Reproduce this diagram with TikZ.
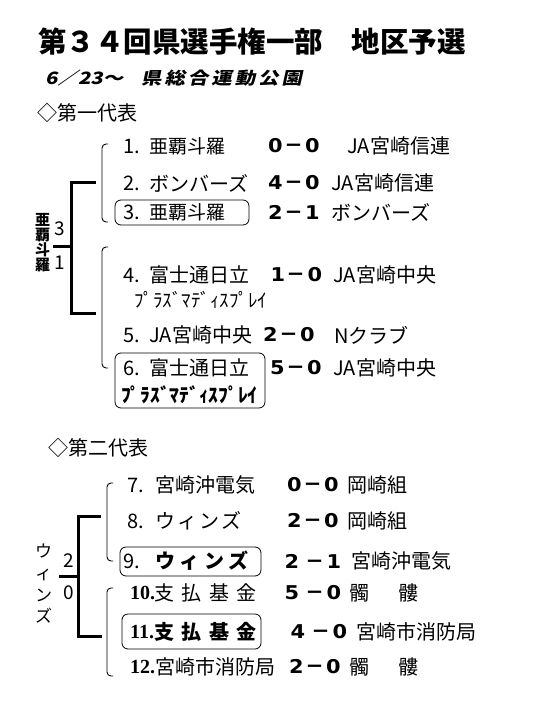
\documentclass[tikz,border=0pt]{standalone}
\usepackage{fontspec}
\newfontfamily\jp{Noto Sans CJK JP}
\newfontfamily\jpblack{Noto Sans CJK JP Black}
\newfontfamily\jpsl{Noto Sans CJK JP}[FakeSlant=0.22,FakeStretch=1.2]
\newfontfamily\serf{Liberation Serif}
\newfontfamily\dvsw{DejaVu Sans}[FakeStretch=1.1]
\newcommand\scr[3]{\makebox[18.5pt]{#1}\hspace*{#2}\makebox[18.5pt]{\jp\bfseries －}\makebox[18.5pt]{#3}}
\tikzset{
  txt/.style={anchor=west, inner sep=0pt, font=\jp\fontsize{20}{20}\selectfont},
  txs/.style={anchor=west, inner sep=0pt, font=\jp\fontsize{19}{19}\selectfont},
  sco/.style={anchor=west, inner sep=0pt, font=\dvsw\bfseries\fontsize{19}{19}\selectfont},
  hank/.style={anchor=west, inner sep=0pt, font=\jp\fontsize{19}{19}\selectfont},
  head/.style={anchor=west, inner sep=0pt, font=\jp\fontsize{20}{20}\selectfont},
  dig/.style={inner sep=0pt, font=\jp\fontsize{19}{19}\selectfont},
  vert/.style={inner sep=0pt, align=center},
  brk/.style={line width=3pt},
  pbrk/.style={line width=0.9pt, rounded corners=4pt},
  winbox/.style={line width=0.8pt, rounded corners=6pt},
}
\begin{document}
\begin{tikzpicture}[x=1pt,y=-1pt]
\useasboundingbox (0,0) rectangle (540,720);
% title
\node[anchor=west, inner sep=0pt, font=\jpblack\fontsize{28.5}{28.5}\selectfont] (title) at (38,42) {第３４回県選手権一部　地区予選};
\node[anchor=west, inner sep=0pt, font=\jpsl\bfseries\fontsize{17}{17}\selectfont] (subd) at (45,78) {6／23～};
\node[anchor=west, inner sep=0pt, font=\jpsl\bfseries\fontsize{17}{17}\selectfont] (subp) at (141,78) {県\kern3pt総\kern3pt合\kern3pt運\kern3pt動\kern3pt公\kern3pt園};
\node[head] (h1) at (37,113) {◇第一代表};
% section 1 brackets
\coordinate (p1t) at (102,144); \coordinate (p1b) at (102,222);
\coordinate (p2t) at (102,247); \coordinate (p2b) at (102,368);
\draw[pbrk] ([xshift=6pt]p1t) -- (p1t) -- (p1b) -- ([xshift=6pt]p1b);
\draw[pbrk] ([xshift=6pt]p2t) -- (p2t) -- (p2b) -- ([xshift=6pt]p2b);
\coordinate (k1t) at (96,182); \coordinate (k1v) at (71.5,182);
\coordinate (k1b) at (96,313); \coordinate (k1w) at (71.5,313);
\coordinate (k1m) at (71.5,246.5); \coordinate (k1l) at (53,246.5);
\draw[brk] (k1t) -- (k1v) -- (k1w) -- (k1b);
\draw[brk] (k1l) -- (k1m);
\node[dig] (s3) at (60,229) {3};
\node[dig] (s1) at (59.5,263) {1};
\node[vert, font=\jp\bfseries\fontsize{15}{15}\selectfont] (w1) at (42.5,243) {亜\\覇\\斗\\羅};
% section 1 rows
\draw[winbox] (115,200) rectangle (249,225);
\draw[winbox] (115,353) rectangle (265,408);
\node[txt] (n1) at (123,146) {1.};
\node[txs] (r1a) at (149,146) {亜覇斗羅};
\node[sco] (r1s) at (266,146) {\scr{0}{0pt}{0}};
\node[txt] (r1b) at (347,146) {JA宮崎信連};
\node[txt] (n2) at (123,183) {2.};
\node[txt] (r2a) at (149,183) {ボンバーズ};
\node[sco] (r2s) at (266,183) {\scr{4}{0pt}{0}};
\node[txt] (r2b) at (331,183) {JA宮崎信連};
\node[txt] (n3) at (123,212.5) {3.};
\node[txs] (r3a) at (149,212.5) {亜覇斗羅};
\node[sco] (r3s) at (266,212.5) {\scr{2}{0pt}{1}};
\node[txt] (r3b) at (331,212.5) {ボンバーズ};
\node[txt] (n4) at (123,275) {4.};
\node[txt] (r4a) at (149,275) {富士通日立};
\node[sco] (r4s) at (268.5,275) {\scr{1}{0pt}{0}};
\node[txt] (r4b) at (333,275) {JA宮崎中央};
\node[hank] (r4c) at (134,300) {ﾌﾟﾗｽﾞﾏﾃﾞｨｽﾌﾟﾚｲ};
\node[txt] (n5) at (123,335) {5.};
\node[txt] (r5a) at (149,335) {JA宮崎中央};
\node[sco] (r5s) at (261,335) {\scr{2}{0pt}{0}};
\node[txt] (r5b) at (334,335) {Nクラブ};
\node[txt] (n6) at (123,368) {6.};
\node[txt] (r6a) at (149,368) {富士通日立};
\node[sco] (r6s) at (268,368) {\scr{5}{0pt}{0}};
\node[txt] (r6b) at (333,368) {JA宮崎中央};
\node[hank, font=\jp\bfseries\fontsize{19.5}{19.5}\selectfont] (r6c) at (121,395) {ﾌﾟﾗｽﾞﾏﾃﾞｨｽﾌﾟﾚｲ};
% section 2
\node[head] (h2) at (48,448) {◇第二代表};
\coordinate (p3t) at (107,483); \coordinate (p3b) at (107,561);
\coordinate (p4t) at (107,588); \coordinate (p4b) at (107,676);
\draw[pbrk] ([xshift=6pt]p3t) -- (p3t) -- (p3b) -- ([xshift=6pt]p3b);
\draw[pbrk] ([xshift=6pt]p4t) -- (p4t) -- (p4b) -- ([xshift=6pt]p4b);
\coordinate (k2t) at (101,516); \coordinate (k2v) at (78,516);
\coordinate (k2b) at (102,636); \coordinate (k2w) at (78,636);
\coordinate (k2m) at (78,576); \coordinate (k2l) at (59,576);
\draw[brk] (k2t) -- (k2v) -- (k2w) -- (k2b);
\draw[brk] (k2l) -- (k2m);
\node[dig] (s2) at (69,561) {2};
\node[dig] (s0) at (69,593) {0};
\node[vert, font=\jp\fontsize{17}{21.7}\selectfont] (w2) at (43.5,584) {ウ\\ィ\\ン\\ズ};
\draw[winbox] (120,547) rectangle (261,576);
\draw[winbox] (122,614) rectangle (261,649);
\node[txt] (n7) at (127,485) {7.};
\node[txt] (r7a) at (155,485) {宮崎沖電気};
\node[sco] (r7s) at (285,485) {\scr{0}{0pt}{0}};
\node[txt] (r7b) at (347,485) {岡崎組};
\node[txt] (n8) at (127,521) {8.};
\node[txt] (r8a) at (155,521) {ウ\kern2ptィ\kern2ptン\kern2ptズ};
\node[sco] (r8s) at (285,521) {\scr{2}{0pt}{0}};
\node[txt] (r8b) at (347,521) {岡崎組};
\node[txt] (n9) at (123,561) {9.};
\node[txt, font=\jp\bfseries\fontsize{20}{20}\selectfont] (r9a) at (155,561) {ウ\kern4.5ptィ\kern4.5ptン\kern4.5ptズ};
\node[sco] (r9s) at (282.5,561) {\scr{2}{5pt}{1}};
\node[txt] (r9b) at (351,561) {宮崎沖電気};
\node[txt, font=\serf\bfseries\fontsize{20}{20}\selectfont] (n10) at (130,593) {10.};
\node[txt] (r10a) at (154,593) {支\kern7.5pt払\kern7.5pt基\kern7pt金};
\node[sco] (r10s) at (282.5,593) {\scr{5}{5pt}{0}};
\node[txt] (r10b) at (349,593) {髑};
\node[txt] (r10c) at (398,593) {髏};
\node[txt, font=\serf\bfseries\fontsize{20}{20}\selectfont] (n11) at (130,632) {11.};
\node[txt, font=\jp\bfseries\fontsize{20}{20}\selectfont] (r11a) at (154,632) {支\kern7.5pt払\kern7.5pt基\kern7pt金};
\node[sco] (r11s) at (288.5,632) {\scr{4}{5pt}{0}};
\node[txt] (r11b) at (356,632) {宮崎市消防局};
\node[txt, font=\serf\bfseries\fontsize{20}{20}\selectfont] (n12) at (130,667) {12.};
\node[txt] (r12a) at (155,667) {宮崎市消防局};
\node[sco] (r12s) at (287,667) {\scr{2}{0pt}{0}};
\node[txt] (r12b) at (349,667) {髑};
\node[txt] (r12c) at (398,667) {髏};
\end{tikzpicture}
\end{document}
